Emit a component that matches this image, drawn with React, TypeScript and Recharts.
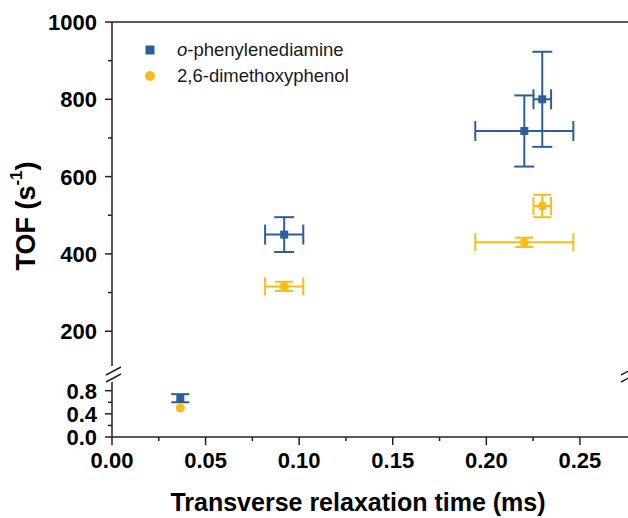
import React from "react";
import {
  ScatterChart,
  Scatter,
  XAxis,
  YAxis,
  ZAxis,
  ErrorBar,
  Legend,
  ReferenceLine,
} from "recharts";

// shared relaxation times (ms) for both probes
const relaxTime = [0.0365, 0.092, 0.2203, 0.2299];
const relaxTimeErr = [0.001, 0.0102, 0.0262, 0.0047];

// TOF (s^-1)
const opdTof = [0.67, 450, 718, 800];
const opdTofErr = [0.07, 45, 92, 123];
const dmpTof = [0.5, 316, 430, 524];
const dmpTofErr = [0.03, 12, 12, 29];

const seriesNames = ["o-phenylenediamine", "2,6-dimethoxyphenol"];

const xTicks = [0, 0.025, 0.05, 0.075, 0.1, 0.125, 0.15, 0.175, 0.2, 0.225, 0.25];
const upperTicks = [200, 300, 400, 500, 600, 700, 800, 900, 1000];
const lowerTicks = [0, 0.2, 0.4, 0.6, 0.8];

const X_MAX = 0.2757;
const UPPER_DOMAIN = [110, 1000];
const LOWER_DOMAIN = [0, 0.95];

const BLUE = "#2d5e98";
const YELLOW = "#f9bd19";
const AXIS = "#222";
const FONT = "'Liberation Sans', Arial, sans-serif";

const makeRows = (tof: number[], tofErr: number[]) =>
  relaxTime.map((t, i) => ({ t, tErr: relaxTimeErr[i], tof: tof[i], tofErr: tofErr[i] }));

const opdRows = makeRows(opdTof, opdTofErr);
const dmpRows = makeRows(dmpTof, dmpTofErr);

const isMajor = (v: number, step: number) => Math.abs(v / step - Math.round(v / step)) < 1e-6;

const XTick = (props: any) => {
  const { x, y, payload } = props;
  const v = payload.value;
  const major = isMajor(v, 0.05);
  return (
    <g>
      <line x1={x} x2={x} y1={y} y2={y + (major ? 8 : 4)} stroke={AXIS} strokeWidth={1.5} />
      {major && (
        <text x={x} y={y + 31} textAnchor="middle" fontFamily={FONT} fontWeight="bold" fontSize={22} fill="#000">
          {v.toFixed(2)}
        </text>
      )}
    </g>
  );
};

const makeYTick = (step: number, digits: number) => (props: any) => {
  const { x, y, payload } = props;
  const v = payload.value;
  const major = isMajor(v, step);
  return (
    <g>
      <line x1={x} x2={x - (major ? 7 : 4)} y1={y} y2={y} stroke={AXIS} strokeWidth={1.5} />
      {major && (
        <text x={x - 15} y={y + 8} textAnchor="end" fontFamily={FONT} fontWeight="bold" fontSize={22} fill="#000">
          {v.toFixed(digits)}
        </text>
      )}
    </g>
  );
};

const UpperTick = makeYTick(200, 0);
const LowerTick = makeYTick(0.4, 1);

const YTitle = () => (
  <text
    transform="translate(26,216) rotate(-90)"
    textAnchor="middle"
    dominantBaseline="central"
    fontFamily={FONT}
    fontWeight="bold"
    fontSize={27}
    fill="#000"
  >
    TOF (s
    <tspan dy={-10} fontSize={17}>-1</tspan>
    <tspan dy={10}>)</tspan>
  </text>
);

const XTitle = () => (
  <text x={358} y={145} textAnchor="middle" fontFamily={FONT} fontWeight="bold" fontSize={25} fill="#000">
    Transverse relaxation time (ms)
  </text>
);

const renderName = (name: string) =>
  name.startsWith("o-") ? (
    <>
      <i>o</i>
      {name.slice(1)}
    </>
  ) : (
    name
  );

const LegendContent = (props: any) => {
  const items = [...(props.payload || [])].sort(
    (a: any, b: any) => seriesNames.indexOf(a.value) - seriesNames.indexOf(b.value)
  );
  return (
    <div style={{ fontFamily: FONT, fontSize: 18.5, color: "#1a1a1a", width: 240 }}>
      {items.map((entry: any) => (
        <div key={entry.value} style={{ position: "relative", height: 26 }}>
          <svg width={18} height={26} style={{ position: "absolute", left: 0, top: 0 }}>
            {entry.type === "square" ? (
              <rect x={4.5} y={8.5} width={9} height={9} fill={entry.color} />
            ) : (
              <circle cx={9} cy={13} r={5} fill={entry.color} />
            )}
          </svg>
          <span style={{ position: "absolute", left: 36, top: 0, lineHeight: "26px", whiteSpace: "nowrap" }}>
            {renderName(entry.value)}
          </span>
        </div>
      ))}
    </div>
  );
};

const axisLine = { stroke: AXIS, strokeWidth: 1.5 };

export default function App() {
  const upperOpd = opdRows.filter((r) => r.tof > 1);
  const upperDmp = dmpRows.filter((r) => r.tof > 1);
  const lowerOpd = opdRows.filter((r) => r.tof <= 1);
  const lowerDmp = dmpRows.filter((r) => r.tof <= 1);

  return (
    <div style={{ position: "absolute", left: 0, top: 0, width: 628, height: 518, background: "#fff" }}>
      <div style={{ position: "absolute", left: 0, top: 0 }}>
        <ScatterChart width={628} height={366} margin={{ top: 22, right: 0, bottom: 0, left: 0 }}>
          <XAxis type="number" dataKey="t" domain={[0, X_MAX]} hide allowDataOverflow />
          <YAxis
            type="number"
            dataKey="tof"
            domain={UPPER_DOMAIN}
            ticks={upperTicks}
            interval={0}
            width={112}
            tickSize={0}
            tickMargin={0}
            tickLine={false}
            tick={<UpperTick />}
            axisLine={axisLine}
            allowDataOverflow
            label={<YTitle />}
          />
          <ZAxis range={[80, 80]} />
          <ReferenceLine y={1000} stroke={AXIS} strokeWidth={1.5} />
          <Legend
            layout="vertical"
            align="center"
            verticalAlign="middle"
            wrapperStyle={{ left: 141, top: 37, width: 240, height: 52 }}
            content={<LegendContent />}
          />
          <Scatter
            name={seriesNames[0]}
            data={upperOpd}
            fill={BLUE}
            shape="square"
            legendType="square"
            isAnimationActive={false}
          >
            <ErrorBar dataKey="tErr" direction="x" width={10} stroke={BLUE} strokeWidth={2} />
            <ErrorBar dataKey="tofErr" direction="y" width={10} stroke={BLUE} strokeWidth={2} />
          </Scatter>
          <Scatter
            name={seriesNames[1]}
            data={upperDmp}
            fill={YELLOW}
            shape="circle"
            legendType="circle"
            isAnimationActive={false}
          >
            <ErrorBar dataKey="tErr" direction="x" width={9} stroke={YELLOW} strokeWidth={2} />
            <ErrorBar dataKey="tofErr" direction="y" width={9} stroke={YELLOW} strokeWidth={2} />
          </Scatter>
        </ScatterChart>
      </div>

      <div style={{ position: "absolute", left: 0, top: 366 }}>
        <ScatterChart width={628} height={152} margin={{ top: 16, right: 0, bottom: 0, left: 0 }}>
          <XAxis
            type="number"
            dataKey="t"
            domain={[0, X_MAX]}
            ticks={xTicks}
            interval={0}
            height={81}
            tickSize={0}
            tickMargin={0}
            tickLine={false}
            tick={<XTick />}
            axisLine={axisLine}
            allowDataOverflow
            label={<XTitle />}
          />
          <YAxis
            type="number"
            dataKey="tof"
            domain={LOWER_DOMAIN}
            ticks={lowerTicks}
            interval={0}
            width={112}
            tickSize={0}
            tickMargin={0}
            tickLine={false}
            tick={<LowerTick />}
            axisLine={axisLine}
            allowDataOverflow
          />
          <ZAxis range={[80, 80]} />
          <Scatter name={seriesNames[0]} data={lowerOpd} fill={BLUE} shape="square" isAnimationActive={false}>
            <ErrorBar dataKey="tofErr" direction="y" width={9} stroke={BLUE} strokeWidth={2} />
          </Scatter>
          <Scatter name={seriesNames[1]} data={lowerDmp} fill={YELLOW} shape="circle" isAnimationActive={false} />
        </ScatterChart>
      </div>

      {/* axis break marks */}
      <svg width={628} height={518} style={{ position: "absolute", left: 0, top: 0, pointerEvents: "none" }}>
        {[106, 621].map((bx) => (
          <g key={bx} stroke={AXIS} strokeWidth={1.5}>
            <line x1={bx} y1={375} x2={bx + 15} y2={367} />
            <line x1={bx} y1={382} x2={bx + 15} y2={374} />
          </g>
        ))}
      </svg>
    </div>
  );
}
